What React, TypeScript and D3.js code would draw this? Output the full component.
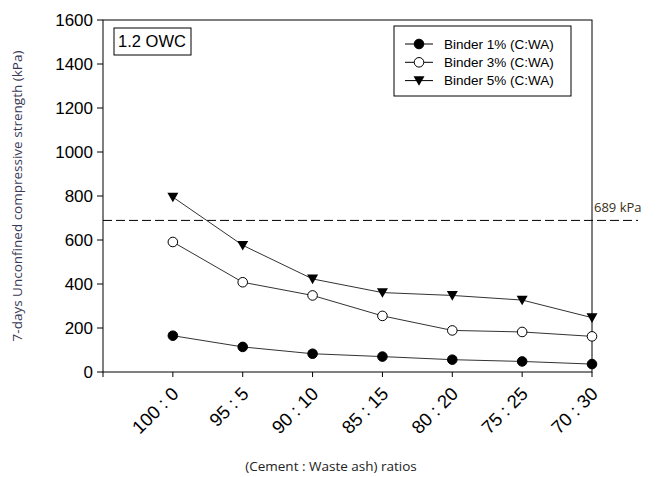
import React from "react";
import * as d3 from "d3";

const categories = ["100 : 0", "95 : 5", "90 : 10", "85 : 15", "80 : 20", "75 : 25", "70 : 30"];
const binder1 = [165, 114, 83, 70, 56, 48, 36];
const binder3 = [591, 408, 348, 255, 189, 182, 162];
const binder5 = [795, 576, 423, 361, 348, 327, 247];
const yTicks = [0, 200, 400, 600, 800, 1000, 1200, 1400, 1600];
const seriesNames = ["Binder 1% (C:WA)", "Binder 3% (C:WA)", "Binder 5% (C:WA)"];
const threshold = 689;

const W = 660, H = 477;
const left = 103, right = 592, top = 20, bottom = 372;

export default function App() {
  const x = d3.scaleLinear().domain([0, categories.length]).range([left, right]);
  const y = d3.scaleLinear().domain([0, 1600]).range([bottom, top]);
  const line = d3.line<number>().x((_, i) => x(i + 1)).y((d) => y(d));
  const series = [
    { name: seriesNames[0], values: binder1, kind: "filled" },
    { name: seriesNames[1], values: binder3, kind: "open" },
    { name: seriesNames[2], values: binder5, kind: "tri" },
  ];
  const marker = (kind: string, cx: number, cy: number, key: any) => {
    if (kind === "tri") {
      const s = 5.5;
      return <path key={key} d={`M${cx - s},${cy - s * 0.8}L${cx + s},${cy - s * 0.8}L${cx},${cy + s * 0.95}Z`} fill="#000" />;
    }
    return <circle key={key} cx={cx} cy={cy} r={4.8} fill={kind === "filled" ? "#000" : "#fff"} stroke="#000" strokeWidth={1} />;
  };
  const font = "Liberation Sans, Arial, sans-serif";
  const font2 = "Open Sans, DejaVu Sans, sans-serif";
  return (
    <svg width={W} height={H} style={{ position: "absolute", left: 0, top: 0, background: "#fff" }}>
      <rect x={0} y={0} width={W} height={H} fill="#fff" />
      {/* frame */}
      <rect x={left} y={top} width={right - left} height={bottom - top} fill="none" stroke="#000" strokeWidth={1} />
      {/* y ticks */}
      {yTicks.map((t) => (
        <g key={t}>
          <line x1={left - 6} x2={left} y1={y(t)} y2={y(t)} stroke="#000" />
          <text x={left - 10} y={y(t)} dy="0.36em" textAnchor="end" fontFamily={font} fontSize={17} fill="#000">{t}</text>
        </g>
      ))}
      {/* x ticks */}
      {d3.range(0, categories.length + 1).map((i) => (
        <line key={i} x1={x(i)} x2={x(i)} y1={bottom} y2={bottom + 5} stroke="#000" />
      ))}
      {categories.map((c, i) => (
        <text key={c} transform={`translate(${x(i + 1) + 7},${bottom + 23}) rotate(-45)`} textAnchor="end" fontFamily={font} fontSize={18.5} fill="#000">{c}</text>
      ))}
      {/* threshold */}
      <line x1={left} x2={638} y1={y(threshold)} y2={y(threshold)} stroke="#000" strokeDasharray="9,4" strokeWidth={1} />
      <text x={594} y={y(threshold) - 8} fontFamily={font2} fontSize={13} fill="#3a3020">689 kPa</text>
      {/* series */}
      {series.map((s) => (
        <g key={s.name}>
          <path d={line(s.values) || ""} fill="none" stroke="#333" strokeWidth={1} />
          {s.values.map((v, i) => marker(s.kind, x(i + 1), y(v), i))}
        </g>
      ))}
      {/* label box */}
      <rect x={114} y={28} width={77} height={27} fill="#fff" stroke="#000" />
      <text x={152} y={47} textAnchor="middle" fontFamily={font} fontSize={16.5} fill="#000">1.2 OWC</text>
      {/* legend */}
      <rect x={394} y={26} width={177} height={70} fill="#fff" stroke="#000" />
      {series.map((s, i) => {
        const ly = 44 + i * 18.3;
        return (
          <g key={s.name}>
            <line x1={405} x2={433} y1={ly} y2={ly} stroke="#000" />
            {marker(s.kind, 419, ly, "m")}
            <text x={444} y={ly} dy="0.36em" fontFamily={font} fontSize={13.5} fill="#000">{s.name}</text>
          </g>
        );
      })}
      {/* axis titles */}
      <text transform={`translate(22,${(top + bottom) / 2}) rotate(-90)`} textAnchor="middle" fontFamily={font2} fontSize={13.5} fill="#3a3a55">7-days Unconfined compressive strength (kPa)</text>
      <text x={331} y={471} textAnchor="middle" fontFamily={font2} fontSize={13.5} fill="#222">(Cement : Waste ash) ratios</text>
    </svg>
  );
}
